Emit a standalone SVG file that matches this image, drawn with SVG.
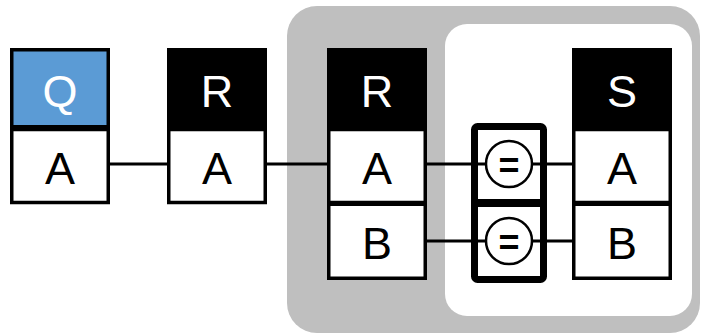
<svg xmlns="http://www.w3.org/2000/svg" width="702" height="335" viewBox="0 0 702 335">
  <style>
    .hdr { stroke: #000; stroke-width: 3.5; }
    .cell { fill: #fff; stroke: #000; stroke-width: 3.5; }
    .lbl { font-family: "Liberation Sans", Arial, sans-serif; font-size: 45px; text-anchor: middle; }
    .wht { fill: #fff; }
    .blk { fill: #000; }
    .conn { stroke: #000; stroke-width: 3; fill: none; }
    .op { fill: #fff; stroke: #000; stroke-width: 2.5; }
    .opl { font-family: "Liberation Sans", Arial, sans-serif; font-size: 36px; font-weight: bold; text-anchor: middle; fill: #000; }
  </style>

  <!-- scope regions -->
  <rect id="outer-scope" x="287" y="6" width="413" height="327" rx="30" fill="#bfbfbf"/>
  <rect id="inner-scope" x="445" y="24" width="247" height="292" rx="22" fill="#fff"/>

  <!-- connectors -->
  <g id="connectors">
    <line class="conn" x1="110" y1="164" x2="167" y2="164"/>
    <line class="conn" x1="267" y1="164" x2="327" y2="164"/>
    <line class="conn" x1="427" y1="164" x2="486" y2="164"/>
    <line class="conn" x1="532" y1="164" x2="572" y2="164"/>
    <line class="conn" x1="427" y1="241" x2="486" y2="241"/>
    <line class="conn" x1="532" y1="241" x2="572" y2="241"/>
  </g>

  <!-- table Q -->
  <g id="table-q">
    <rect class="hdr" x="11.75" y="49.75" width="96.5" height="77" fill="#5b9bd5"/>
    <text class="lbl wht" x="60" y="107">Q</text>
    <rect class="cell" x="11.75" y="129.5" width="96.5" height="73"/>
    <text class="lbl blk" x="60" y="184">A</text>
  </g>

  <!-- table R (outer) -->
  <g id="table-r1">
    <rect class="hdr" x="168.75" y="49.75" width="96.5" height="77" fill="#000"/>
    <text class="lbl wht" x="217" y="107">R</text>
    <rect class="cell" x="168.75" y="129.5" width="96.5" height="73"/>
    <text class="lbl blk" x="217" y="184">A</text>
  </g>

  <!-- table R (inside scope) -->
  <g id="table-r2">
    <rect class="hdr" x="328.75" y="49.75" width="96.5" height="77" fill="#000"/>
    <text class="lbl wht" x="377" y="107">R</text>
    <rect class="cell" x="328.75" y="129.5" width="96.5" height="73"/>
    <text class="lbl blk" x="377" y="184">A</text>
    <rect class="cell" x="328.75" y="204.25" width="96.5" height="74"/>
    <text class="lbl blk" x="377" y="259">B</text>
  </g>

  <!-- table S -->
  <g id="table-s">
    <rect class="hdr" x="573.75" y="49.75" width="96.5" height="77" fill="#000"/>
    <text class="lbl wht" x="622" y="107">S</text>
    <rect class="cell" x="573.75" y="129.5" width="96.5" height="73"/>
    <text class="lbl blk" x="622" y="184">A</text>
    <rect class="cell" x="573.75" y="204.25" width="96.5" height="74"/>
    <text class="lbl blk" x="622" y="259">B</text>
  </g>

  <!-- equality join block -->
  <g id="join">
    <rect x="474.5" y="126.5" width="69" height="153" rx="3" fill="#fff" stroke="#000" stroke-width="7"/>
    <line x1="471" y1="203" x2="547" y2="203" stroke="#000" stroke-width="8"/>
    <line class="conn" x1="471" y1="164" x2="486" y2="164"/>
    <line class="conn" x1="532" y1="164" x2="547" y2="164"/>
    <line class="conn" x1="471" y1="241" x2="486" y2="241"/>
    <line class="conn" x1="532" y1="241" x2="547" y2="241"/>
    <g id="eq-a">
      <circle class="op" cx="509" cy="164" r="23"/>
      <text class="opl" x="509" y="178">=</text>
    </g>
    <g id="eq-b">
      <circle class="op" cx="509" cy="241" r="23"/>
      <text class="opl" x="509" y="255">=</text>
    </g>
  </g>
</svg>
